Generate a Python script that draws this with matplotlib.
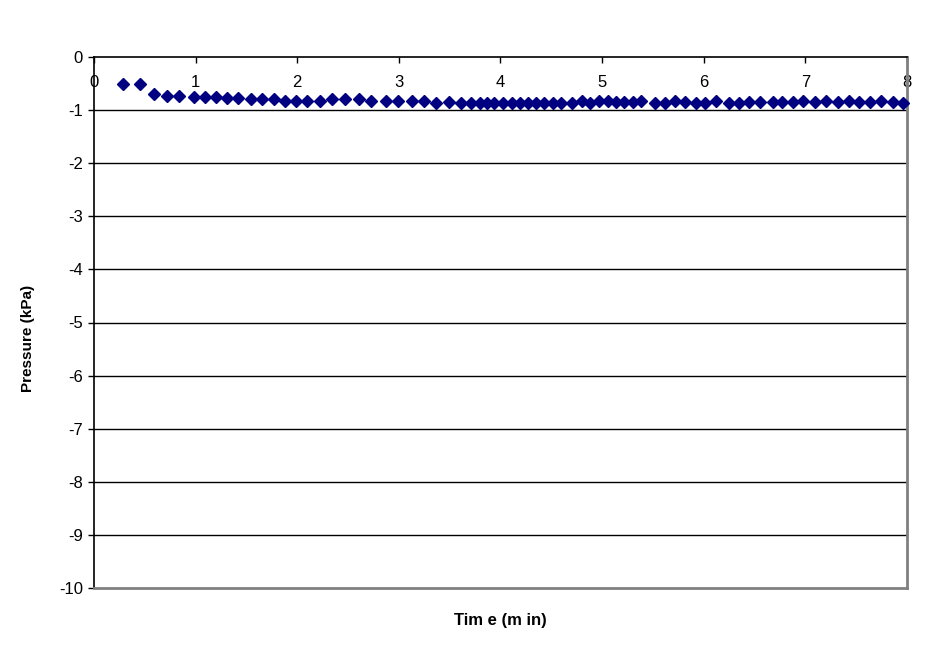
import matplotlib
matplotlib.use("Agg")
import matplotlib.pyplot as plt

plt.rcParams['font.family'] = ['Liberation Sans', 'DejaVu Sans']

time_min = [0.29, 0.45, 0.59, 0.72, 0.84, 0.98, 1.09, 1.20, 1.31, 1.42, 1.54, 1.65,
            1.77, 1.88, 1.99, 2.10, 2.22, 2.34, 2.47, 2.61, 2.73, 2.87, 2.99, 3.13,
            3.25, 3.37, 3.49, 3.61, 3.71, 3.80, 3.87, 3.94, 4.02, 4.11, 4.19, 4.27,
            4.35, 4.43, 4.52, 4.60, 4.70, 4.80, 4.88, 4.97, 5.06, 5.14, 5.22, 5.30,
            5.38, 5.52, 5.62, 5.72, 5.82, 5.92, 6.01, 6.12, 6.25, 6.35, 6.45, 6.55,
            6.68, 6.77, 6.88, 6.98, 7.09, 7.20, 7.32, 7.43, 7.53, 7.64, 7.74, 7.86,
            7.96]
pressure_kpa = [-0.51, -0.51, -0.70, -0.73, -0.73, -0.76, -0.76, -0.76, -0.77, -0.78,
                -0.79, -0.79, -0.80, -0.82, -0.82, -0.82, -0.82, -0.80, -0.80, -0.80,
                -0.82, -0.83, -0.83, -0.83, -0.83, -0.86, -0.84, -0.86, -0.87, -0.87,
                -0.86, -0.87, -0.87, -0.87, -0.86, -0.86, -0.87, -0.86, -0.87, -0.86,
                -0.86, -0.83, -0.86, -0.83, -0.83, -0.85, -0.84, -0.84, -0.83, -0.86,
                -0.86, -0.83, -0.85, -0.86, -0.86, -0.83, -0.87, -0.86, -0.84, -0.84,
                -0.84, -0.84, -0.84, -0.83, -0.84, -0.83, -0.84, -0.83, -0.85, -0.84,
                -0.83, -0.84, -0.86]

x_ticks = [0, 1, 2, 3, 4, 5, 6, 7, 8]
y_ticks = [0, -1, -2, -3, -4, -5, -6, -7, -8, -9, -10]
x_label = "Tim e (m in)"
y_label = "Pressure (kPa)"

fig = plt.figure(figsize=(9.37, 6.45), dpi=100)
ax = fig.add_axes([94 / 937, 1 - 588 / 645, (907 - 94) / 937, (588 - 57) / 645])

ax.set_xlim(0, 8)
ax.set_ylim(-10, 0)

for yv in y_ticks[1:-1]:
    ax.axhline(yv, color='black', lw=1.0, zorder=1)

ax.plot(time_min, pressure_kpa, linestyle='none', marker='D', markersize=6.3,
        color='#000080', markeredgecolor='#000080', zorder=3, clip_on=False)

ax.set_xticks(x_ticks)
ax.set_xticklabels([str(v) for v in x_ticks])
ax.set_yticks(y_ticks)
ax.set_yticklabels([str(v) for v in y_ticks])

ax.tick_params(axis='x', top=True, bottom=False, labeltop=True, labelbottom=False,
               direction='in', length=4, width=1, pad=-24, labelsize=12)
ax.tick_params(axis='y', direction='out', length=4, width=1, pad=4, labelsize=12)

ax.spines['top'].set_color('black')
ax.spines['top'].set_linewidth(1.2)
ax.spines['left'].set_color('black')
ax.spines['left'].set_linewidth(1.2)
ax.spines['bottom'].set_color('#808080')
ax.spines['bottom'].set_linewidth(2)
ax.spines['right'].set_color('#808080')
ax.spines['right'].set_linewidth(2)

fig.text(500 / 937, 1 - 621 / 645, x_label, ha='center', va='center',
         fontsize=12, fontweight='bold')
fig.text(28 / 937, 1 - 338 / 645, y_label, ha='center', va='center',
         rotation=90, fontsize=11, fontweight='bold')

fig.savefig("out.png", dpi=100, facecolor='white')
